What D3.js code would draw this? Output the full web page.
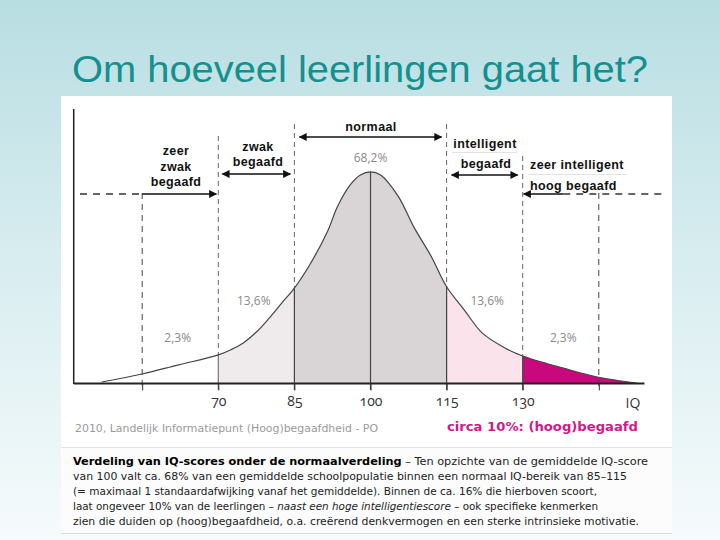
<!DOCTYPE html>
<html><head><meta charset="utf-8">
<script src="https://cdn.jsdelivr.net/npm/d3@7"></script>
<style>
html,body{margin:0;padding:0;}
svg{display:block;}
</style></head>
<body>
<svg id="chart" width="720" height="540"></svg>
<script>
// ---- data ----
const iqPoints = [47, 55, 62, 70, 72.5, 75, 77.5, 80, 82.5, 85, 88, 91.5, 93.5, 96, 98, 100, 102, 105.5, 108.5, 112, 115, 118.5, 122, 126.5, 130, 138, 144.5, 153];
const density  = [0.7, 4.5, 8.7, 13.5, 16, 19.3, 24.3, 30.8, 38, 45.1, 56, 71.7, 83.6, 93.8, 98.5, 100, 98.5, 88.3, 74.1, 59.9, 45.7, 34.7, 23.9, 16.8, 13, 7.3, 3.2, 0];
const tickValues = [55, 70, 85, 100, 115, 130, 145];
const tickLabels = ["", "70", "85", "100", "115", "130", ""];
const regionStart = [70, 85, 115, 130];
const regionEnd   = [85, 115, 130, 153];
const regionNames = ["zwak", "normaal", "intelligent", "hoog"];
const percentLabels = ["2,3%", "13,6%", "68,2%", "13,6%", "2,3%"];
const percentIQ     = [62, 77, 100, 123, 138];
const solidLinesIQ = [70, 85, 100, 115, 130];
const dashedLinesIQ = [55, 70, 85, 115, 130, 145];
const title = "Om hoeveel leerlingen gaat het?";
const paragraph = [
  [["Verdeling van IQ-scores onder de normaalverdeling", "b"], [" – Ten opzichte van de gemiddelde IQ-score", ""]],
  [["van 100 valt ca. 68% van een gemiddelde schoolpopulatie binnen een normaal IQ-bereik van 85–115", ""]],
  [["(= maximaal 1 standaardafwijking vanaf het gemiddelde). Binnen de ca. 16% die hierboven scoort,", ""]],
  [["laat ongeveer 10% van de leerlingen – ", ""], ["naast een hoge intelligentiescore", "i"], [" – ook specifieke kenmerken", ""]],
  [["zien die duiden op (hoog)begaafdheid, o.a. creërend denkvermogen en een sterke intrinsieke motivatie.", ""]]
];
const paragraphWidths = [575, 554, 524, 525, 566];

// ---- drawing ----
const svg = d3.select("#chart");
const defs = svg.append("defs");
const grad = defs.append("linearGradient").attr("id","bg").attr("x1",0).attr("y1",0).attr("x2",0).attr("y2",1);
grad.append("stop").attr("offset","0%").attr("stop-color","#b8dee2");
grad.append("stop").attr("offset","45%").attr("stop-color","#d6ecef");
grad.append("stop").attr("offset","100%").attr("stop-color","#f6fbfc");
svg.append("rect").attr("width",720).attr("height",540).attr("fill","url(#bg)");

svg.append("text").attr("x",360).attr("y",82).attr("text-anchor","middle")
  .attr("font-family","Liberation Sans, Arial, sans-serif").attr("font-size",37)
  .attr("textLength",576).attr("lengthAdjust","spacingAndGlyphs")
  .attr("fill","#14908f").text(title);

// image panel
svg.append("rect").attr("x",61).attr("y",96).attr("width",611).attr("height",351).attr("fill","#ffffff");
svg.append("rect").attr("x",61).attr("y",448).attr("width",611).attr("height",85).attr("fill","#fcfcfc");
svg.append("line").attr("x1",61).attr("x2",672).attr("y1",447.5).attr("y2",447.5).attr("stroke","#e4e4e4");
svg.append("line").attr("x1",61).attr("x2",672).attr("y1",533.5).attr("y2",533.5).attr("stroke","#dcdcdc");

const x = d3.scaleLinear().domain([70,130]).range([218.3,522.7]);
const y = d3.scaleLinear().domain([0,100]).range([383.5,171.8]);
const pts = iqPoints.map((v,i)=>[v,density[i]]);
const dens = v => density[iqPoints.indexOf(v)];

const curve = d3.curveCatmullRom.alpha(0.5);
const area = d3.area().x(d=>x(d[0])).y0(y(0)).y1(d=>y(d[1])).curve(curve);
const line = d3.line().x(d=>x(d[0])).y(d=>y(d[1])).curve(curve);

const regionFill = {zwak:"#efebec", normaal:"#d9d5d6", intelligent:"#fbe3ec", hoog:"#c8087c"};
regionStart.forEach((s,i)=>{
  const id = "clip"+i;
  defs.append("clipPath").attr("id",id).append("rect")
    .attr("x",x(s)).attr("width",x(regionEnd[i])-x(s)).attr("y",0).attr("height",540);
  svg.append("path").datum(pts).attr("d",area).attr("fill",regionFill[regionNames[i]]).attr("clip-path",`url(#${id})`);
});

// dashed guides
const dashTop = {55:193, 70:136, 85:124, 115:124, 130:156, 145:193};
dashedLinesIQ.forEach(v=>{
  const outer = (v===55||v===145);
  const bottom = outer ? 390 : y(dens(v));
  svg.append("line").attr("x1",x(v)).attr("x2",x(v)).attr("y1",dashTop[v]).attr("y2",bottom)
    .attr("stroke", outer ? "#444" : "#666").attr("stroke-width",1)
    .attr("stroke-dasharray", outer ? "6,5" : "5,4");
});

// solid verticals
solidLinesIQ.forEach(v=>{
  svg.append("line").attr("x1",x(v)).attr("x2",x(v)).attr("y1",y(dens(v))).attr("y2",390)
    .attr("stroke", v===70 ? "#777" : "#444").attr("stroke-width",1.2);
});

// curve
svg.append("path").datum(pts).attr("d",line).attr("fill","none").attr("stroke","#444").attr("stroke-width",1.2);

// axes
svg.append("line").attr("x1",x(41.5)).attr("x2",x(154)).attr("y1",383.5).attr("y2",383.5).attr("stroke","#222").attr("stroke-width",1.8);
svg.append("line").attr("x1",x(41.5)).attr("x2",x(41.5)).attr("y1",109).attr("y2",384).attr("stroke","#222").attr("stroke-width",1.5);
const axis = d3.axisBottom(x).tickValues(tickValues).tickFormat((d,i)=>tickLabels[i]).tickSize(7).tickPadding(6);
const ag = svg.append("g").attr("transform","translate(0,383.5)").call(axis);
ag.select(".domain").remove();
ag.selectAll(".tick line").attr("stroke","#333");
ag.selectAll(".tick text").attr("font-family","Open Sans, sans-serif").attr("font-size",14)
  .attr("fill","#333").style("font-variant-numeric","oldstyle-nums");
svg.append("text").attr("x",633).attr("y",408).attr("text-anchor","middle")
  .attr("font-family","Open Sans, sans-serif").attr("font-size",14).attr("fill","#333").text("IQ");

// percentage labels
const pctY = [342, 305, 162, 305, 342];
percentLabels.forEach((t,i)=>{
  svg.append("text").attr("x",x(percentIQ[i])).attr("y",pctY[i]).attr("text-anchor","middle")
    .attr("font-family","Open Sans, sans-serif").attr("font-size",12).attr("fill","#8a8a8a").text(t);
});

// arrows
defs.append("marker").attr("id","arr").attr("viewBox","0 0 10 10").attr("refX",9).attr("refY",5)
  .attr("markerWidth",9).attr("markerHeight",8).attr("markerUnits","userSpaceOnUse").attr("orient","auto-start-reverse")
  .append("path").attr("d","M0,0 L10,5 L0,10 Z").attr("fill","#111");
function arrow(x1,x2,yy,both){
  const l = svg.append("line").attr("x1",x1).attr("x2",x2).attr("y1",yy).attr("y2",yy)
    .attr("stroke","#111").attr("stroke-width",1.6).attr("marker-end","url(#arr)");
  if(both) l.attr("marker-start","url(#arr)");
}
arrow(x(71)-1, x(84)+1, 174, true);
arrow(x(86), x(114), 137, true);
arrow(x(116), x(129), 175, true);
svg.append("line").attr("x1",80).attr("x2",x(55)).attr("y1",194).attr("y2",194).attr("stroke","#333").attr("stroke-width",1.3).attr("stroke-dasharray","7,6");
arrow(x(55), x(70)-2, 194, false);
arrow(x(138), x(130)+1, 194, false);
svg.append("line").attr("x1",x(138)).attr("x2",662).attr("y1",194).attr("y2",194).attr("stroke","#333").attr("stroke-width",1.3).attr("stroke-dasharray","7,6");

// faint rules
svg.append("line").attr("x1",452).attr("x2",517).attr("y1",152.5).attr("y2",152.5).attr("stroke","#e2e2e2");
svg.append("line").attr("x1",528).attr("x2",627).attr("y1",174.5).attr("y2",174.5).attr("stroke","#e2e2e2");

// category labels
const lab = (t,xx,yy,anchor)=>svg.append("text").attr("x",xx).attr("y",yy).attr("text-anchor",anchor||"middle")
  .attr("font-family","Liberation Sans, Arial, sans-serif").attr("font-weight","bold").attr("font-size",12.5)
  .attr("letter-spacing",0.4).attr("fill","#111").text(t);
lab("zeer",176,155); lab("zwak",176,170.5); lab("begaafd",176,186);
lab("zwak",258,151); lab("begaafd",258,166);
lab("normaal",371,131);
lab("intelligent",485,148); lab("begaafd",486,168);
lab("zeer intelligent",530,169,"start"); lab("hoog begaafd",530,190,"start");

// source & callout
svg.append("text").attr("x",75).attr("y",432).attr("font-family","DejaVu Sans, Verdana, sans-serif")
  .attr("font-size",10.5).attr("fill","#9a9a9a").attr("textLength",303).attr("lengthAdjust","spacingAndGlyphs")
  .text("2010, Landelijk Informatiepunt (Hoog)begaafdheid - PO");
svg.append("text").attr("x",447).attr("y",431).attr("font-family","DejaVu Sans, Verdana, sans-serif")
  .attr("font-size",12.5).attr("font-weight","bold").attr("fill","#d4178a").attr("textLength",191).attr("lengthAdjust","spacingAndGlyphs")
  .text("circa 10%: (hoog)begaafd");

// paragraph
paragraph.forEach((parts,i)=>{
  const t = svg.append("text").attr("x",73).attr("y",465+i*15)
    .attr("font-family","DejaVu Sans, Verdana, sans-serif").attr("font-size",11).attr("fill","#222")
    .attr("textLength",paragraphWidths[i]).attr("lengthAdjust","spacingAndGlyphs");
  parts.forEach(p=>{
    const s = t.append("tspan").text(p[0]);
    if(p[1]==="b") s.attr("font-weight","bold").attr("fill","#000");
    if(p[1]==="i") s.attr("font-style","italic");
  });
});
</script>
</body></html>
